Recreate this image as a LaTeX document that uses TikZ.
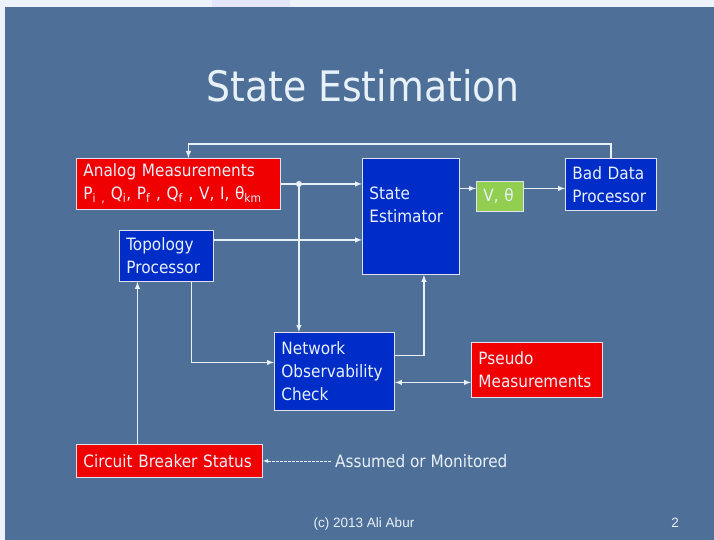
\documentclass[tikz,border=0pt]{standalone}
\usepackage{fontspec}
\setmainfont{DejaVu Sans Condensed}
\newfontfamily\footfont{Liberation Sans}
\usetikzlibrary{arrows,shapes,positioning}
\hyphenpenalty=10000

\begin{document}
\begin{tikzpicture}[x=1pt,y=-1pt,>=latex]
    \definecolor{slideblue}{RGB}{78,112,152}
    \definecolor{mypage}{RGB}{238,242,252}
    \definecolor{mylilac}{RGB}{230,230,250}
    \definecolor{myred}{RGB}{240,0,0}
    \definecolor{myblue}{RGB}{0,45,200}
    \definecolor{mygreen}{RGB}{146,206,80}
    \definecolor{mywhite}{RGB}{232,240,248}
    \definecolor{myedge}{RGB}{225,225,235}

    \tikzstyle{format}=[rectangle,draw=myedge,line width=0.9pt,text=mywhite,align=left,
        inner xsep=7pt,inner ysep=0pt,anchor=north west,font=\fontsize{17}{23}\selectfont]  % box look
    \tikzstyle{redbox}=[format,fill=myred]
    \tikzstyle{bluebox}=[format,fill=myblue]
    \tikzstyle{greenbox}=[format,fill=mygreen]
    \tikzstyle{wire}=[draw=mywhite,line width=1.4pt]  % connector lines

    \useasboundingbox (0,0) rectangle (714,540);
    % slide background
    \fill[mypage] (0,0) rectangle (714,540);
    \fill[mylilac] (212,0) rectangle (290,7);
    \fill[slideblue] (5,7) rectangle (714,540);

    \node[anchor=base,text=mywhite,font=\fontsize{42}{50}\selectfont] (title) at (363,102) {State Estimation};

    % boxes
    \node[redbox,text width=190pt,minimum height=51pt] (ana) at (76,158)
        {Analog Measurements\\P\textsubscript{i ,} Q\textsubscript{i}, P\textsubscript{f} , Q\textsubscript{f} , V, I, θ\textsubscript{km}};
    \node[bluebox,text width=80pt,minimum height=51pt] (topo) at (119,230) {Topology\\Processor};
    \node[bluebox,text width=83pt,minimum height=116pt] (est) at (362,158) {State\\Estimator\\\mbox{}};
    \node[greenbox,text width=33pt,minimum height=30pt] (vt) at (476,181) {V, θ};
    \node[bluebox,text width=77pt,minimum height=52pt] (bad) at (565,158) {Bad Data\\Processor};
    \node[bluebox,text width=106pt,minimum height=78pt] (net) at (274,332) {Network\\Observability\\Check};
    \node[redbox,text width=117pt,minimum height=55pt] (pseudo) at (471,342) {Pseudo\\Measurements};
    \node[redbox,text width=172pt,minimum height=33pt] (cbs) at (76,444) {Circuit Breaker Status};
    \node[right=68pt of cbs,inner xsep=4pt,text=mywhite,font=\fontsize{17}{23}\selectfont] (mon) {Assumed or Monitored};

    % helper points
    \coordinate[right=18pt of ana.east] (split);
    \coordinate (tpin) at ([xshift=-29pt]topo.south);
    \coordinate (vtin) at ([yshift=8pt]vt.west);

    % connectors
    \draw[wire,->] (bad.north) -- ++(0,-14) -| ([xshift=10pt]ana.north);
    \draw[wire,->] (ana.east) -- (ana.east -| est.west);
    \fill[mywhite] (split) circle (3pt);
    \draw[wire,->] (split) -- (split |- net.north);
    \draw[wire,->] ([yshift=16pt]topo.east) -- ([yshift=16pt]topo.east -| est.west);
    \draw[wire,->] ([xshift=25pt]topo.south) |- ([yshift=9pt]net.west);
    \draw[wire,->] (cbs.north -| tpin) -- (tpin);
    \draw[wire,->] ([yshift=16pt]net.east) -| ([xshift=13pt]est.south);
    \draw[wire,->] (vtin -| est.east) -- (vtin);
    \draw[wire,->] ([yshift=8pt]vt.east) -- ([yshift=8pt]vt.east -| bad.west);
    \draw[wire,<->] ([yshift=-11pt]net.east) -- ([yshift=-11pt]net.east -| pseudo.west);
    \draw[wire,->,line width=0.8pt,dash pattern=on 2.5pt off 1.5pt] (mon.west) -- (mon.west -| cbs.east);

    % footer
    \node[anchor=base,text=mywhite,font=\footfont\fontsize{13.5}{16}\selectfont] (copy) at (364,527) {(c) 2013 Ali Abur};
    \node[anchor=base,text=mywhite,font=\footfont\fontsize{13.5}{16}\selectfont] (page) at (675,527) {2};
\end{tikzpicture}
\end{document}
